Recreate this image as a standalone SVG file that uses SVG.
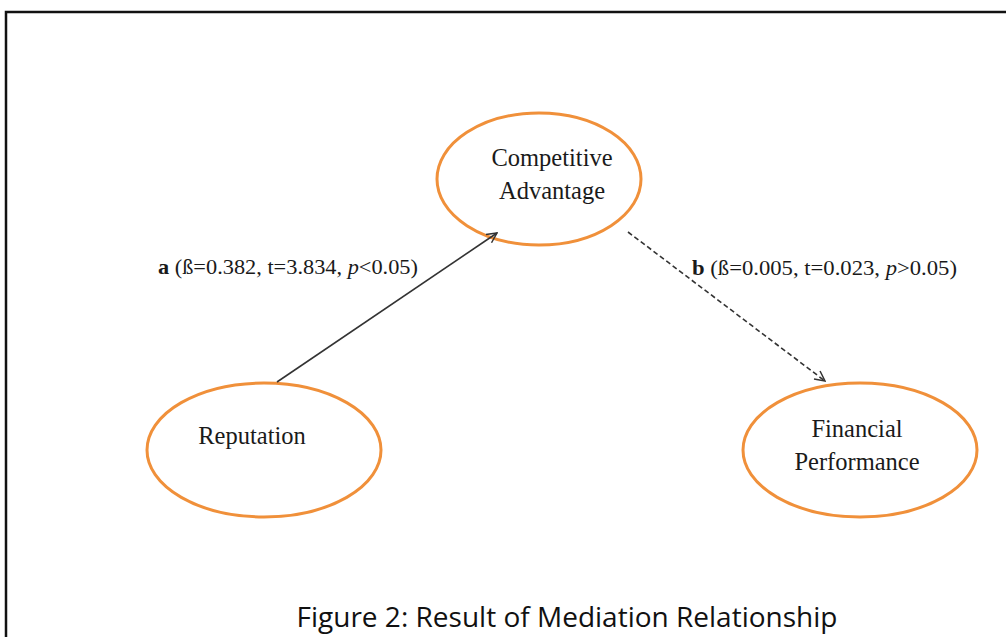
<svg xmlns="http://www.w3.org/2000/svg" width="1006" height="637" viewBox="0 0 1006 637">
<style>
.node{fill:#fff;stroke:#F0903A;stroke-width:3}
.lbl{font-family:"Liberation Serif","Times New Roman",serif;font-size:24.5px;fill:#1a1a1a;text-anchor:middle}
.edge{font-family:"Liberation Serif","Times New Roman",serif;font-size:22px;fill:#1a1a1a}
.conn{stroke:#333;stroke-width:1.6;fill:none}
</style>
<defs>
<marker id="arr" viewBox="0 0 12 12" refX="11" refY="6" markerWidth="12" markerHeight="12" markerUnits="userSpaceOnUse" orient="auto">
<path d="M1,1 L11,6 L1,11" fill="none" stroke="#333" stroke-width="1.5"/>
</marker>
</defs>
<rect x="0" y="0" width="1006" height="637" fill="#fff"/>
<path d="M6,637 L6,12 L1006,12" fill="none" stroke="#111" stroke-width="2.5"/>
<g id="competitive-advantage">
<ellipse class="node" cx="539" cy="179" rx="102" ry="66"/>
<text class="lbl" x="552" y="166">Competitive</text>
<text class="lbl" x="552" y="199">Advantage</text>
</g>
<g id="reputation">
<ellipse class="node" cx="264" cy="450" rx="117" ry="67"/>
<text class="lbl" x="252" y="444">Reputation</text>
</g>
<g id="financial-performance">
<ellipse class="node" cx="860" cy="450" rx="117" ry="67"/>
<text class="lbl" x="857" y="437">Financial</text>
<text class="lbl" x="857" y="470">Performance</text>
</g>
<g id="connectors">
<line class="conn" x1="277" y1="382" x2="497" y2="233" marker-end="url(#arr)"/>
<line class="conn" x1="628" y1="232" x2="825" y2="381" stroke-dasharray="5,3" marker-end="url(#arr)"/>
<text class="edge" x="158" y="274" textLength="260" lengthAdjust="spacingAndGlyphs"><tspan font-weight="bold">a</tspan> (ß=0.382, t=3.834, <tspan font-style="italic">p</tspan>&lt;0.05)</text>
<text class="edge" x="692" y="275" textLength="265" lengthAdjust="spacingAndGlyphs"><tspan font-weight="bold">b</tspan> (ß=0.005, t=0.023, <tspan font-style="italic">p</tspan>&gt;0.05)</text>
</g>
<text x="567" y="627" font-family="'Open Sans','Liberation Sans',sans-serif" font-size="27" fill="#111" text-anchor="middle" textLength="541" lengthAdjust="spacingAndGlyphs">Figure 2: Result of Mediation Relationship</text>
</svg>
